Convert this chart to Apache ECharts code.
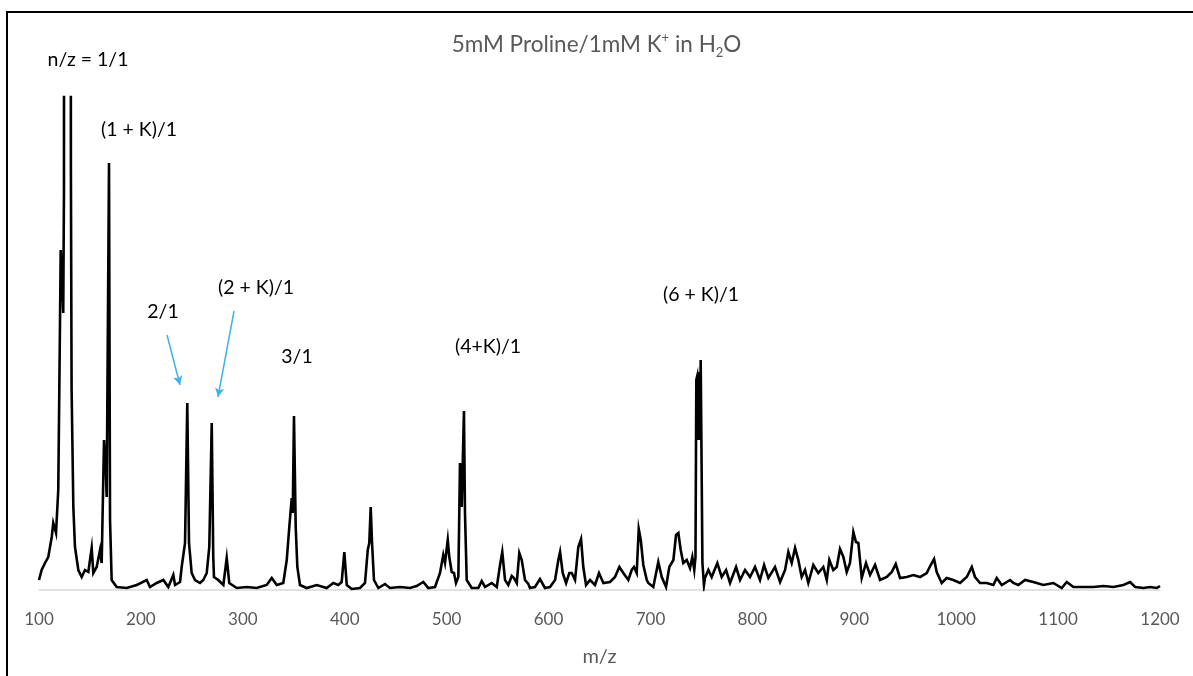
<!DOCTYPE html>
<html>
<head>
<meta charset="utf-8">
<script src="https://cdn.jsdelivr.net/npm/echarts@6/dist/echarts.min.js"></script>
<style>html,body{margin:0;padding:0;background:#fff}#c{width:1193px;height:676px}</style>
</head>
<body>
<div id="c"></div>
<script>
// m/z values (x)
const mz = [
100.0,102.6,105.9,109.1,112.5,114.0,116.7,118.9,120.6,121.3,122.6,123.8,124.5,125.0,130.7,131.3,132.0,133.7,135.3,138.6,
141.9,145.1,148.4,151.7,153.3,156.6,159.9,161.5,163.8,165.7,166.4,168.7,169.7,171.3,176.2,186.1,195.9,205.7,208.9,215.5,
222.0,226.9,231.8,233.5,238.4,240.0,243.3,245.5,247.2,249.8,253.1,258.0,261.2,264.6,267.1,269.5,271.0,271.7,275.9,280.9,
284.2,286.7,294.0,303.8,313.6,323.4,328.4,333.3,339.7,343.1,345.6,348.0,349.0,350.2,351.9,353.5,356.1,362.7,372.5,382.3,
388.8,393.7,397.0,399.6,402.0,406.9,415.0,419.9,422.6,424.1,425.5,426.8,428.7,433.0,439.5,444.4,454.3,464.1,470.6,477.1,
482.0,488.6,493.5,496.7,498.4,501.1,502.6,505.0,507.2,509.2,511.5,513.1,514.8,517.0,518.0,519.7,524.6,531.1,534.4,537.7,
544.2,549.2,552.4,554.6,557.3,560.5,563.9,566.1,568.8,571.3,573.7,576.9,580.2,581.8,586.7,591.6,596.5,601.4,606.4,609.6,
611.3,613.9,617.2,620.4,622.8,626.0,629.2,631.9,634.1,636.8,640.7,645.6,649.5,653.8,660.3,665.2,669.5,673.4,678.3,681.6,
683.9,686.5,688.5,690.5,693.0,696.4,697.9,702.8,707.7,711.1,715.3,718.5,722.5,725.1,727.4,729.7,732.2,735.6,738.8,741.1,
743.0,744.2,745.0,745.7,746.7,747.6,748.6,749.3,751.0,752.5,753.5,756.8,760.1,765.6,769.9,774.2,778.1,784.0,787.9,792.8,
797.7,802.6,807.5,811.5,815.7,822.2,827.2,832.1,835.3,838.6,841.9,845.1,848.4,851.7,854.9,859.8,864.7,869.6,873.0,875.5,
879.4,882.8,886.0,889.3,892.6,895.8,899.1,901.7,904.0,907.3,911.5,915.5,920.4,925.3,931.9,936.8,940.7,944.9,951.5,958.0,
964.5,971.1,975.0,978.3,980.9,985.8,990.7,997.2,1003.8,1010.4,1015.3,1018.5,1023.4,1030.0,1036.5,1039.8,1044.7,1052.9,1056.1,1061.0,
1067.6,1075.7,1085.5,1095.4,1103.6,1108.5,1115.0,1124.8,1134.6,1144.5,1154.3,1164.1,1170.7,1175.6,1183.7,1190.3,1196.9,1200.0
];
// relative intensity (arbitrary units, axis top = 493; the 1/1 peak is off scale)
const intensity = [
10,20,27,33,53,67,57,100,267,340,317,277,400,1500,1500,420,200,83,43,20,
13,20,18,42,17,23,40,27,150,117,93,427,70,10,3,2,5,10,3,7,
10,3,15,5,8,23,47,187,47,17,10,7,10,17,43,167,33,13,10,5,
32,7,2,3,2,5,12,5,7,30,63,92,77,174,63,23,5,2,5,2,
7,5,8,38,5,1,2,7,40,47,83,47,10,2,6,2,3,2,4,8,
2,3,17,35,27,50,33,18,17,7,13,127,83,179,77,10,2,2,9,3,
7,3,25,38,10,5,14,12,7,37,30,10,6,2,3,11,2,3,10,30,
38,17,7,17,17,10,43,51,23,5,10,5,17,7,8,13,23,17,10,20,
23,17,61,50,25,10,7,3,28,13,3,23,30,55,57,40,27,30,22,33,
20,33,210,213,150,218,150,230,27,5,12,20,13,27,13,20,7,23,10,20,
13,23,10,25,12,23,8,20,38,27,42,30,13,20,7,25,17,23,10,30,
20,23,41,33,18,27,58,48,47,12,27,15,25,10,13,18,26,12,13,15,
13,17,25,31,18,7,12,10,7,13,23,13,7,7,5,12,5,10,7,5,
10,8,5,7,2,8,3,3,3,4,3,5,8,3,2,3,2,4
];
const xMin = 100, xMax = 1200, xStep = 100;
const yMax = 493;
const titleParts = ['5mM Proline/1mM K', '+', ' in H', '2', 'O'];
const xName = 'm/z';
const annotations = [
  {text: 'n/z = 1/1', x: 88, y: 60},
  {text: '(1 + K)/1', x: 139, y: 130},
  {text: '2/1', x: 163, y: 312},
  {text: '(2 + K)/1', x: 256, y: 288},
  {text: '3/1', x: 297, y: 357},
  {text: '(4+K)/1', x: 488, y: 347},
  {text: '(6 + K)/1', x: 701, y: 295}
];
const arrows = [
  [[167, 335], [180, 385]],
  [[234, 311], [218, 397]]
];

const data = mz.map((m, i) => [m, intensity[i]]);
const chart = echarts.init(document.getElementById('c'), null, {renderer: 'canvas'});
const FONT = 'Lato, "Open Sans", sans-serif';
const gray = '#595959';
chart.setOption({
  animation: false,
  backgroundColor: '#fff',
  title: {
    text: '{a|' + titleParts[0] + '}{sup|' + titleParts[1] + '}{a|' + titleParts[2] + '}{sub|' + titleParts[3] + '}{a|' + titleParts[4] + '}',
    left: 'center',
    top: 26,
    textStyle: {
      fontWeight: 'normal',
      rich: {
        a: {fontSize: 22.5, color: gray, fontFamily: FONT, fontWeight: 'normal', lineHeight: 28},
        sup: {fontSize: 13, color: gray, fontFamily: FONT, fontWeight: 'normal', verticalAlign: 'top', lineHeight: 15},
        sub: {fontSize: 13, color: gray, fontFamily: FONT, fontWeight: 'normal', verticalAlign: 'bottom', lineHeight: 12}
      }
    }
  },
  grid: {left: 39, right: 33, top: 97, bottom: 86, containLabel: false},
  xAxis: {
    type: 'value', min: xMin, max: xMax, interval: xStep,
    name: xName, nameLocation: 'middle', nameGap: 57,
    nameTextStyle: {color: gray, fontSize: 20, fontFamily: FONT},
    axisLine: {show: true, lineStyle: {color: '#d9d9d9', width: 1.5}},
    axisTick: {show: false},
    splitLine: {show: false},
    axisLabel: {color: gray, fontSize: 17, fontFamily: FONT, margin: 21, formatter: v => String(v)}
  },
  yAxis: {type: 'value', min: 0, max: yMax, show: false, splitLine: {show: false}},
  series: [{
    type: 'line',
    data: data,
    symbol: 'none',
    clip: true,
    lineStyle: {color: '#000', width: 2.6, join: 'miter'},
    z: 3,
    markLine: {
      silent: true,
      symbol: ['none', 'arrow'],
      symbolSize: [7, 9],
      label: {show: false},
      lineStyle: {color: '#3db4e6', width: 1.5, type: 'solid'},
      data: arrows.map(a => [{x: a[0][0], y: a[0][1]}, {x: a[1][0], y: a[1][1]}])
    }
  }],
  graphic: [
    {type: 'rect', shape: {x: 7, y: 12, width: 1400, height: 1000}, style: {fill: 'none', stroke: '#000', lineWidth: 2}, silent: true, z: 10}
  ].concat(annotations.map(a => ({
    type: 'text', x: a.x, y: a.y, silent: true, z: 10,
    style: {text: a.text, font: '19.5px ' + FONT, fill: '#000', align: 'center', verticalAlign: 'middle', textAlign: 'center', textVerticalAlign: 'middle'}
  })))
});
</script>
</body>
</html>
